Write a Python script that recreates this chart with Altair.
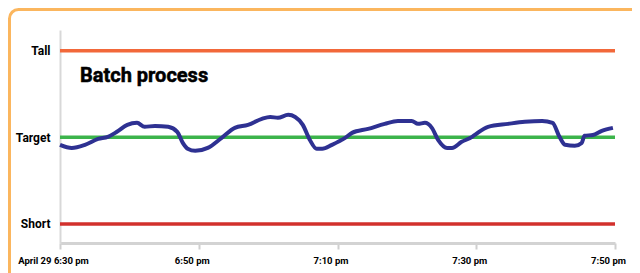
import altair as alt
import pandas as pd

# ---- data ----
minutes = [0, 1.7, 3.6, 5.5, 6.9, 8.2, 9.7, 11.1, 12.2, 13.7, 15.6, 16.9, 17.7, 18.4, 19.5,
           21.3, 23.3, 25.2, 27.1, 29.1, 30.3, 31.4, 32.9, 33.9, 35.0, 36.0, 37.0, 37.8,
           39.2, 41.1, 42.1, 44.4, 46.8, 48.7, 50.7, 51.6, 52.6, 53.6, 54.5, 55.8, 56.5,
           57.9, 59.4, 59.8, 61.7, 64.6, 67.0, 69.5, 71.0, 72.0, 72.8, 74.2, 75.2, 75.6,
           76.8, 78.1, 79.7]
values = [45.7, 43.9, 45.7, 49.1, 50.3, 53.2, 57.2, 58.4, 56.1, 56.6, 56.1, 53.2, 46.8, 43.4, 42.2,
          43.9, 49.7, 55.5, 57.2, 60.7, 61.8, 61.3, 63.0, 61.8, 57.2, 48.6, 43.4, 43.4,
          45.7, 49.7, 52.6, 54.9, 57.8, 59.5, 59.5, 57.8, 58.4, 55.5, 48.6, 43.9, 43.9,
          47.4, 50.3, 51.4, 56.1, 57.8, 59.0, 59.5, 58.4, 50.3, 45.7, 45.1, 46.8, 50.9,
          51.4, 53.8, 55.5]

levels = ["Short", "Target", "Tall"]
level_values = [0, 50, 100]
level_colors = ["#d2302c", "#3cb44b", "#f2683a"]

tick_values = [0, 20, 40, 60, 80]
tick_labels = ["April 29 6:30 pm", "6:50 pm", "7:10 pm", "7:30 pm", "7:50 pm"]

title_text = "Batch process"

curve = pd.DataFrame({"minute": minutes, "value": values})
lv = pd.DataFrame({"level": levels, "value": level_values, "color": level_colors})

FONT = "Roboto, Liberation Sans, sans-serif"

x_label_expr = "[" + ",".join("'%s'" % t for t in tick_labels) + "][round(datum.value/20)]"
y_label_expr = "".join(
    "datum.value==%s?'%s':" % (v, n) for v, n in zip(level_values, levels)
) + "''"

xscale = alt.Scale(domain=[0, 80], nice=False, zero=False)
yscale = alt.Scale(domain=[-11, 112], nice=False, zero=False)

frame = alt.Chart(alt.Data(values=[{}])).mark_rect(
    fill=None, stroke="#fbb65e", strokeWidth=3, cornerRadius=9, clip=False
).encode(
    x=alt.value(-50.5), x2=alt.value(700), y=alt.value(-20.5), y2=alt.value(400)
)

rules = alt.Chart(lv).mark_rule(strokeWidth=3.5).encode(
    y=alt.Y("value:Q", scale=yscale,
            axis=alt.Axis(values=level_values, labelExpr=y_label_expr, title=None,
                          domainColor="#d8d8d8", domainWidth=2, ticks=False,
                          labelFont=FONT, labelFontSize=12, labelFontWeight="bold",
                          labelColor="#000", labelPadding=10, grid=False)),
    color=alt.Color("color:N", scale=None),
)

line = alt.Chart(curve).mark_line(
    color="#2e3192", strokeWidth=4, interpolate="monotone"
).encode(
    x=alt.X("minute:Q", scale=xscale,
            axis=alt.Axis(values=tick_values, labelExpr=x_label_expr, title=None,
                          domainColor="#d3d3d3", domainWidth=3, tickColor="#cfcfcf",
                          tickWidth=2, tickSize=6, labelFont=FONT, labelFontSize=9.5,
                          labelFontWeight="bold", labelColor="#000", labelPadding=6,
                          labelOffset=-7, grid=False, labelFlush=False)),
    y=alt.Y("value:Q", scale=yscale),
)

title = alt.Chart(alt.Data(values=[{"t": title_text}])).mark_text(
    font=FONT, fontSize=20, fontWeight="bold", color="#000", stroke="#000", strokeWidth=0.5,
    align="left", baseline="alphabetic"
).encode(text="t:N", x=alt.value(20), y=alt.value(52))

chart = alt.layer(frame, rules, line, title).properties(
    width=555, height=213,
    padding={"left": 52, "top": 22, "right": 17, "bottom": 30},
    autosize="none",
    background="white",
).configure_view(stroke=None)

chart.save("out.html", embed_options={"renderer": "svg", "actions": False})
